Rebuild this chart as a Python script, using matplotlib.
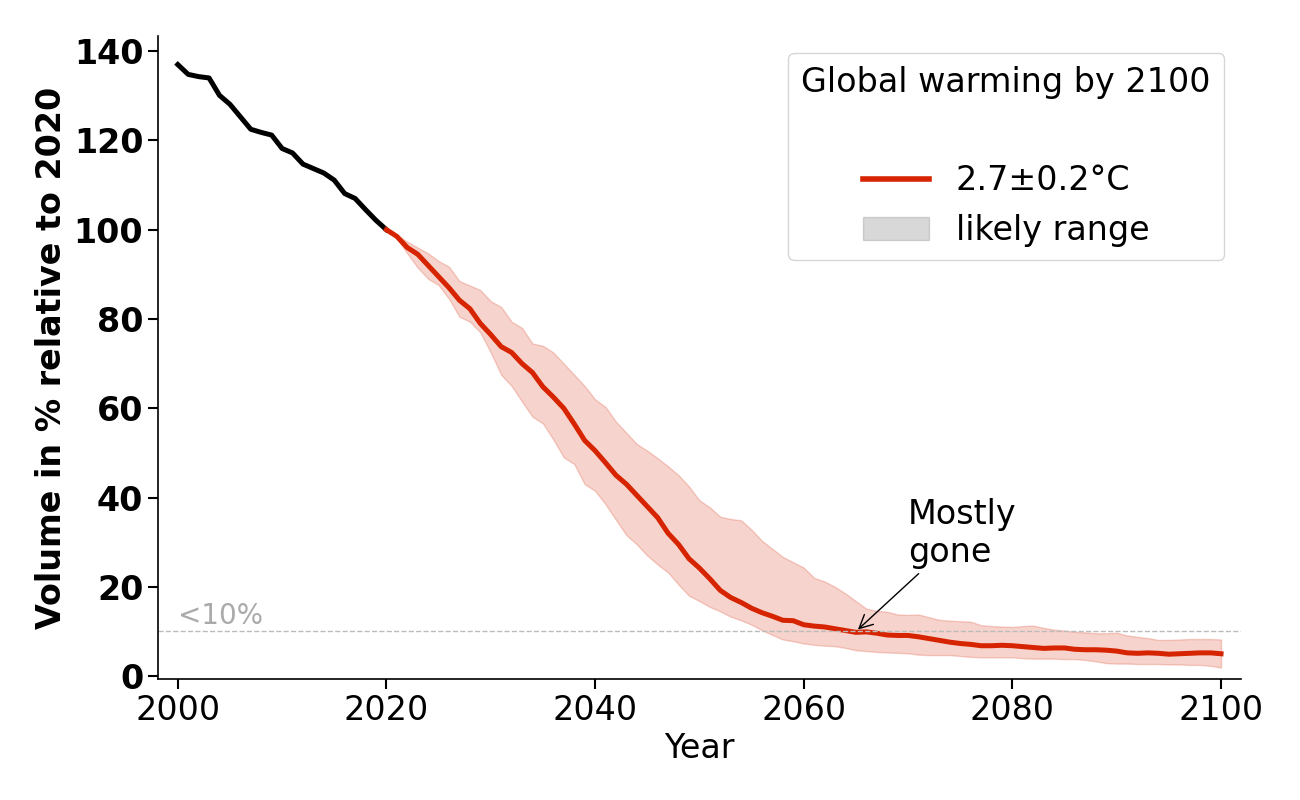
import numpy as np
import matplotlib
matplotlib.use("Agg")
import matplotlib.pyplot as plt
from matplotlib.patches import Patch
from matplotlib.lines import Line2D

# ---- observed volume 2000-2020 ----
obs_years = list(range(2000, 2021))
obs_vol = [137, 134.8, 134.3, 134, 130.1, 128.1, 125.3, 122.5, 121.8, 121.2,
           118.2, 117.2, 114.7, 113.7, 112.7, 111.1, 108.1, 107, 104.5, 102.1, 100]

# ---- projection 2020-2100 ----
proj_years = list(range(2020, 2101))
proj_median = [100, 98.5, 96, 94.5, 92, 89.5, 87, 84.2, 82.3, 79,
               76.5, 73.8, 72.5, 70, 68, 64.8, 62.5, 60, 56.5, 52.8,
               50.5, 47.8, 45, 43, 40.5, 38, 35.5, 32, 29.5, 26.3,
               24.2, 21.8, 19.2, 17.6, 16.5, 15.2, 14.2, 13.4, 12.5, 12.4,
               11.5, 11.2, 11.0, 10.6, 10.2, 9.8, 9.9, 9.6, 9.2, 9.1,
               9.1, 8.8, 8.4, 8.0, 7.6, 7.3, 7.1, 6.8, 6.8, 6.9,
               6.8, 6.6, 6.4, 6.2, 6.3, 6.3, 6.0, 5.9, 5.9, 5.8,
               5.6, 5.2, 5.1, 5.2, 5.1, 4.9, 5.0, 5.1, 5.2, 5.2, 5.0]
proj_upper = [100, 98.8, 97.3, 96, 94.7, 93, 91.7, 88.5, 87.5, 86.5,
              84, 82.7, 79.4, 78, 74.5, 74, 72.5, 70, 67.5, 65,
              62, 60.3, 57, 54.5, 52, 50.5, 48.8, 47, 45, 42.5,
              39.4, 37.8, 35.7, 35.2, 34.9, 32.8, 30.3, 28.5, 26.7, 25.5,
              24.3, 22, 21.2, 20, 18.5, 16.8, 15.1, 14.6, 14.4, 13.8,
              13.7, 13.8, 13.2, 12.6, 12.4, 12.3, 12.2, 11.4, 11.2, 11.1,
              11.0, 11.2, 11.3, 10.8, 10.4, 10.2, 9.9, 9.8, 9.6, 9.6,
              9.7, 9.1, 8.8, 8.5, 8.1, 8.1, 8.2, 8.3, 8.3, 8.3, 8.2]
proj_lower = [100, 98, 94.7, 91.5, 89, 87.6, 84.5, 80.5, 79.4, 77,
              72.5, 67.5, 65, 61.5, 58.1, 56.6, 53, 49, 47.5, 43,
              41.5, 38.5, 35, 31.6, 29.5, 27, 25, 23.2, 20.5, 18,
              16.8, 15.5, 14.5, 13.3, 12.5, 11.5, 10.3, 9.2, 8.2, 7.8,
              7.3, 7.0, 6.8, 6.7, 6.3, 5.8, 5.6, 5.4, 5.3, 5.2,
              5.1, 4.8, 4.7, 4.7, 4.7, 4.5, 4.3, 4.2, 4.2, 4.2,
              4.2, 4.0, 3.9, 3.9, 3.9, 3.8, 3.8, 3.6, 3.3, 2.9,
              2.8, 2.8, 2.7, 2.7, 2.7, 2.6, 2.6, 2.5, 2.5, 2.3, 1.9]

red = "#d62400"

fig = plt.figure(figsize=(13, 8), dpi=100)
ax = fig.add_axes([0.1215, 0.151, 0.833, 0.804])

ax.fill_between(proj_years, proj_lower, proj_upper, color=red, alpha=0.2, lw=1)
ax.plot(obs_years, obs_vol, color="black", lw=3.6)
ax.plot(proj_years, proj_median, color=red, lw=3.6)

# 10% threshold
ax.axhline(10, color="#bbbbbb", lw=1, ls="--")
ax.text(2000, 10.3, "<10%", color="#aaaaaa", fontsize=20, va="bottom", ha="left")

ax.annotate("Mostly\ngone", xy=(2065, 10), xytext=(2070, 24),
            fontsize=24, ha="left", va="bottom",
            arrowprops=dict(arrowstyle="->", color="black", lw=1))

ax.set_xlim(1998.1, 2101.9)
ax.set_ylim(-0.7, 143.4)
ax.set_xticks([2000, 2020, 2040, 2060, 2080, 2100])
ax.set_yticks([0, 20, 40, 60, 80, 100, 120, 140])
ax.tick_params(axis="both", labelsize=24, width=1.5, length=7)
for lab in ax.get_yticklabels():
    lab.set_fontweight("bold")
ax.set_xlabel("Year", fontsize=24)
ax.set_ylabel("Volume in % relative to 2020", fontsize=24, fontweight="bold")
ax.spines["top"].set_visible(False)
ax.spines["right"].set_visible(False)
ax.spines["left"].set_linewidth(1.2)
ax.spines["bottom"].set_linewidth(1.2)

handles = [Line2D([0], [0], color=red, lw=4),
           Patch(facecolor="gray", alpha=0.3, edgecolor="gray")]
leg = ax.legend(handles, ["2.7\u00b10.2\u00b0C", "likely range"],
                title="Global warming by 2100\n", title_fontsize=24, fontsize=24,
                loc="upper right", bbox_to_anchor=(1.0, 1.0))
leg.get_title().set_linespacing(1.6)

fig.savefig("out.png", dpi=100)
